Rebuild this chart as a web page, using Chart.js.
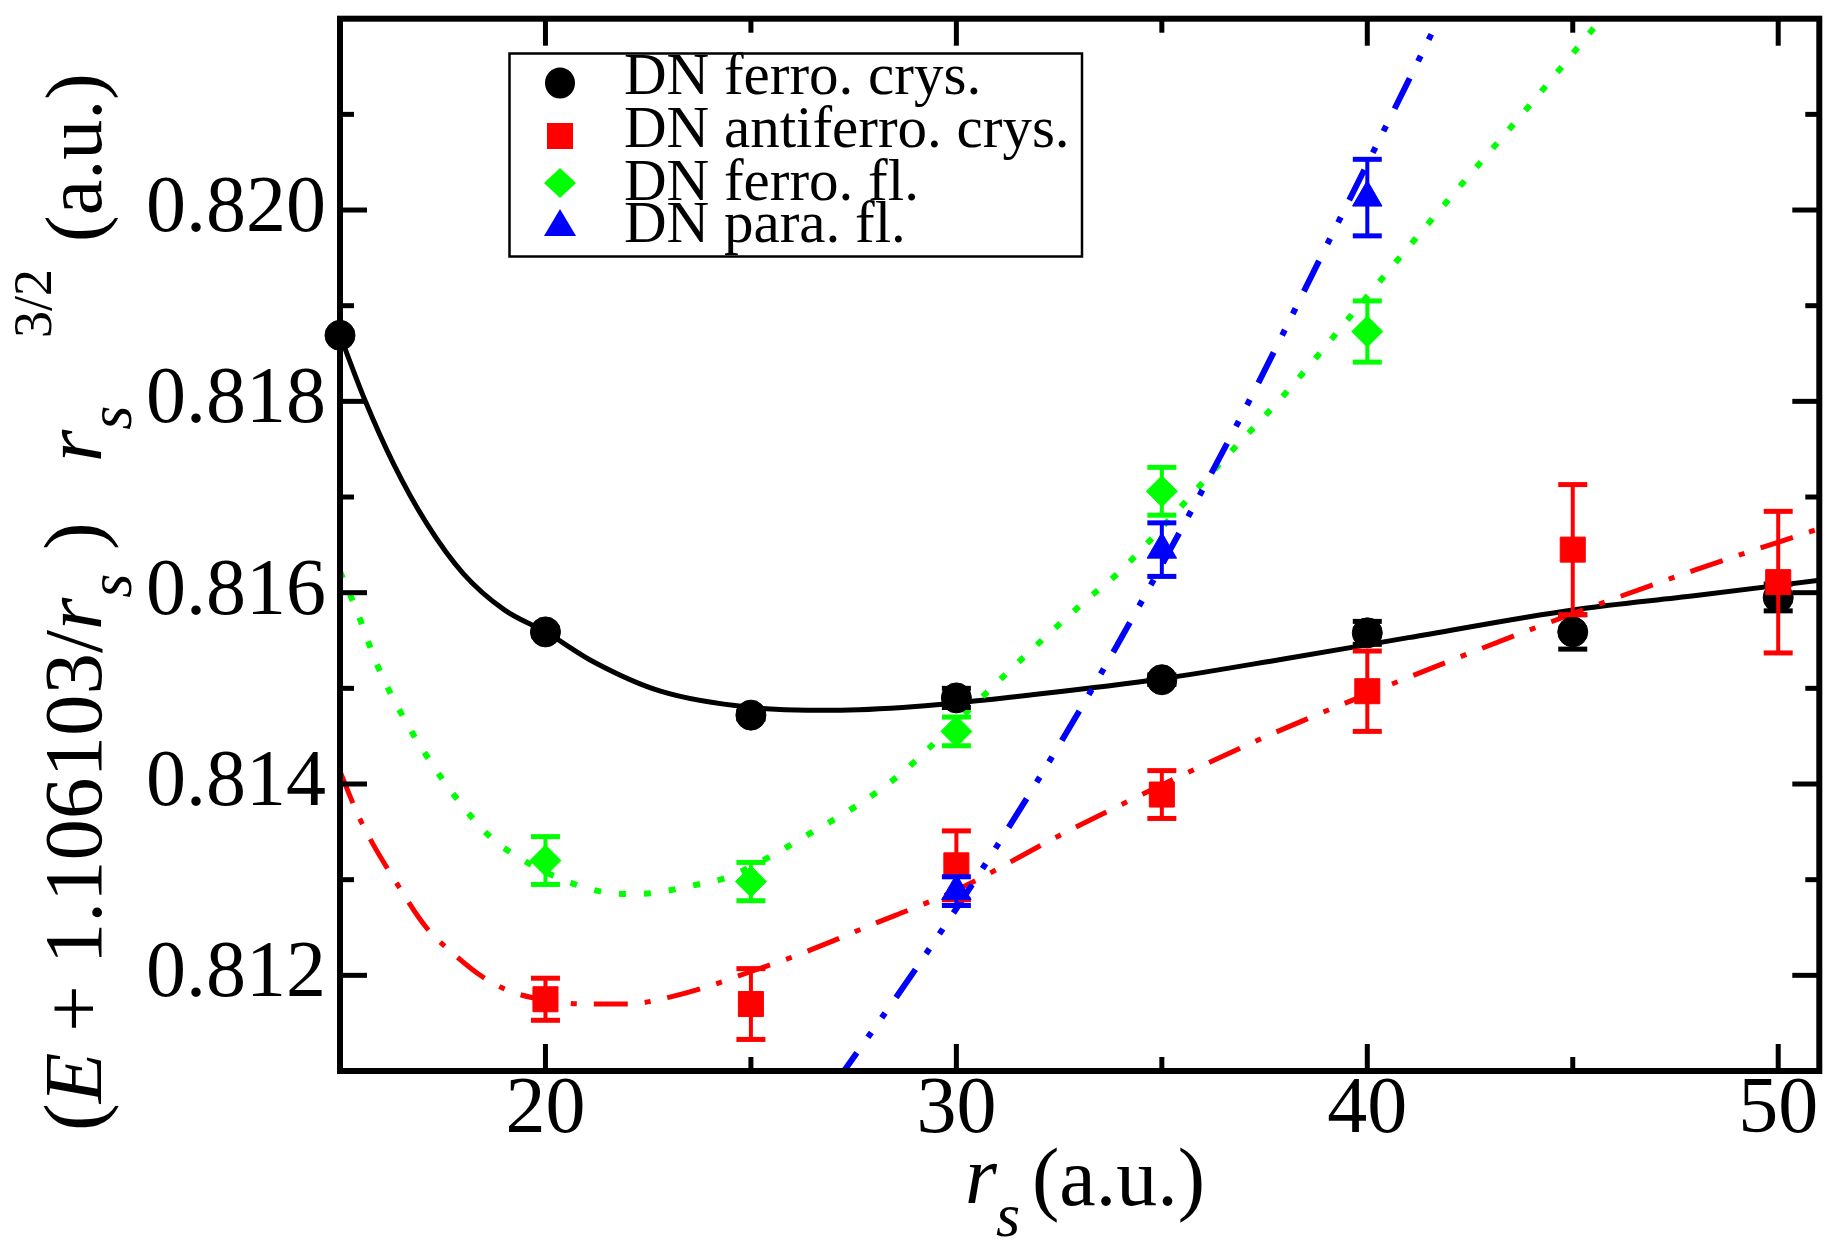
<!DOCTYPE html>
<html><head><meta charset="utf-8">
<script src="https://cdn.jsdelivr.net/npm/chart.js@4.4.0/dist/chart.umd.min.js"></script>
<style>html,body{margin:0;padding:0;background:#fff;}canvas{display:block;}</style>
</head><body>
<canvas id="c" width="1838" height="1242"></canvas>
<script>
// ---- tick labels ----
const xTickValues = [20, 30, 40, 50];
const xTickLabels = ['20', '30', '40', '50'];
const xMinorTicks = [25, 35, 45];
const yTickValues = [0.812, 0.814, 0.816, 0.818, 0.820];
const yTickLabels = ['0.812', '0.814', '0.816', '0.818', '0.820'];
const yMinorTicks = [0.811, 0.813, 0.815, 0.817, 0.819, 0.821];

// ---- series names ----
const seriesNames = ['DN ferro. crys.', 'DN antiferro. crys.', 'DN ferro. fl.', 'DN para. fl.'];

// ---- data points (r_s, value, error) ----
const ferroCrysX = [15, 20, 25, 30, 35, 40, 45, 50];
const ferroCrysY = [0.81869, 0.81559, 0.81472, 0.81490, 0.81509, 0.81558, 0.81559, 0.81595];
const ferroCrysErr = [0, 0.00004, 0.00004, 0.00010, 0.00005, 0.00012, 0.00018, 0.00014];

const antiCrysX = [20, 25, 30, 35, 40, 45, 50];
const antiCrysY = [0.81175, 0.81170, 0.81315, 0.81389, 0.81497, 0.81645, 0.81611];
const antiCrysErr = [0.00022, 0.00037, 0.00036, 0.00025, 0.00042, 0.00068, 0.00074];

const ferroFlX = [20, 25, 30, 35, 40];
const ferroFlY = [0.81320, 0.81298, 0.81455, 0.81706, 0.81873];
const ferroFlErr = [0.00025, 0.00020, 0.00015, 0.00025, 0.00032];

const paraFlX = [30, 35, 40];
const paraFlY = [0.81288, 0.81645, 0.82013];
const paraFlErr = [0.00015, 0.00028, 0.00040];

// ---- fitted curves ----
const ferroCrysFitX = [15, 15.6, 16.3, 17.1, 18, 19, 20, 21.2, 22.8, 25, 27, 29, 32, 35, 38, 41, 45, 48, 51];
const ferroCrysFitY = [0.81869, 0.81802, 0.81735, 0.81673, 0.81620, 0.81582, 0.81559, 0.81527, 0.81497, 0.81480, 0.81477, 0.81481, 0.81494, 0.81510, 0.81531, 0.81553, 0.81582, 0.81597, 0.81613];

const antiCrysFitX = [15, 15.5, 16.5, 17.1, 17.75, 18.45, 19.1, 20, 21, 22, 23, 24, 25, 26, 27, 28, 29, 30, 32.5, 35, 37.5, 40, 42.5, 45, 48, 51];
const antiCrysFitY = [0.81413, 0.81362, 0.81288, 0.81250, 0.81223, 0.81199, 0.81184, 0.81174, 0.81170, 0.81170, 0.81177, 0.81189, 0.81204, 0.81219, 0.81236, 0.81254, 0.81271, 0.81289, 0.81346, 0.81399, 0.81449, 0.81494, 0.81537, 0.81578, 0.81624, 0.81667];

const ferroFlFitX = [15, 15.4, 15.9, 16.5, 17.1, 17.8, 18.6, 19.1, 20.2, 21.3, 22, 22.6, 23.7, 24.4, 25.5, 26.5, 27.6, 28.6, 30, 31.5, 33.1, 34, 35, 36.5, 38, 40, 42, 44, 45.7];
const ferroFlFitY = [0.81622, 0.81582, 0.81525, 0.81473, 0.81430, 0.81387, 0.81347, 0.81330, 0.81304, 0.81288, 0.81285, 0.81286, 0.81295, 0.81302, 0.81325, 0.81350, 0.81378, 0.81409, 0.81465, 0.81527, 0.81590, 0.81623, 0.81668, 0.81739, 0.81808, 0.81910, 0.82012, 0.82112, 0.82200];

const paraFlFitX = [27.1, 29, 31, 33, 35, 37, 39, 41, 41.8];
const paraFlFitY = [0.81090, 0.81206, 0.81336, 0.81477, 0.81629, 0.81790, 0.81962, 0.82135, 0.82205];

const zip = (xs, ys) => xs.map((v, i) => ({x: v, y: ys[i]}));

const SERIF = '"Liberation Serif", "Times New Roman", serif';
const BLACK = '#000000', RED = '#ff0000', GREEN = '#00ff00', BLUE = '#0000ff';

function fitSet(xs, ys, color, dash, width, order) {
  return {label: '', data: zip(xs, ys), showLine: true, pointRadius: 0, pointHoverRadius: 0,
    borderColor: color, borderWidth: width, borderDash: dash, fill: false,
    cubicInterpolationMode: 'monotone', clip: 0, order: order};
}
function pointSet(name, xs, ys, errs, color, style, radius, order) {
  return {label: name, data: zip(xs, ys), errors: errs, showLine: false,
    pointStyle: style, pointRadius: radius, pointHoverRadius: radius,
    backgroundColor: color, borderColor: color, borderWidth: 1, clip: false, order: order};
}

const datasets = [
  fitSet(ferroCrysFitX, ferroCrysFitY, BLACK, [], 5, 13),
  fitSet(antiCrysFitX, antiCrysFitY, RED, [34, 17, 6, 17], 5, 12),
  fitSet(ferroFlFitX, ferroFlFitY, GREEN, [7, 18], 6, 11),
  fitSet(paraFlFitX, paraFlFitY, BLUE, [34, 19, 6, 18, 6, 19], 6, 10),
  pointSet(seriesNames[0], ferroCrysX, ferroCrysY, ferroCrysErr, BLACK, 'circle', 15, 4),
  pointSet(seriesNames[1], antiCrysX, antiCrysY, antiCrysErr, RED, 'rect', 17.7, 3),
  pointSet(seriesNames[2], ferroFlX, ferroFlY, ferroFlErr, GREEN, 'rectRot', 15.5, 2),
  pointSet(seriesNames[3], paraFlX, paraFlY, paraFlErr, BLUE, 'triangle', 17, 1)
];

const errorBarPlugin = {
  id: 'errorBars',
  beforeDatasetDraw(chart, args) {
    const ds = chart.data.datasets[args.index];
    if (!ds.errors) return;
    const ctx = chart.ctx, xs = chart.scales.x, ys = chart.scales.y;
    ctx.save();
    ctx.strokeStyle = ds.borderColor;
    ctx.lineCap = 'butt';
    const seg = (a, b, c, d) => { ctx.beginPath(); ctx.moveTo(a, b); ctx.lineTo(c, d); ctx.stroke(); };
    ds.data.forEach((p, i) => {
      const e = ds.errors[i];
      if (!e) return;
      const px = xs.getPixelForValue(p.x);
      const yTop = ys.getPixelForValue(p.y + e), yBot = ys.getPixelForValue(p.y - e);
      ctx.lineWidth = 4; seg(px, yTop, px, yBot);
      ctx.lineWidth = 5; seg(px - 14.5, yTop, px + 14.5, yTop); seg(px - 14.5, yBot, px + 14.5, yBot);
    });
    ctx.restore();
  }
};

const framePlugin = {
  id: 'frame',
  afterDraw(chart) {
    const ctx = chart.ctx, a = chart.chartArea, xs = chart.scales.x, ys = chart.scales.y;
    const MAJOR = 27, MINOR = 14;
    ctx.save();
    ctx.strokeStyle = '#000'; ctx.lineCap = 'butt';
    const seg = (p, q, r, s) => { ctx.beginPath(); ctx.moveTo(p, q); ctx.lineTo(r, s); ctx.stroke(); };
    ctx.lineWidth = 5;
    xTickValues.forEach(v => { const p = xs.getPixelForValue(v); seg(p, a.bottom, p, a.bottom - MAJOR); seg(p, a.top, p, a.top + MAJOR); });
    xMinorTicks.forEach(v => { const p = xs.getPixelForValue(v); seg(p, a.bottom, p, a.bottom - MINOR); seg(p, a.top, p, a.top + MINOR); });
    yTickValues.forEach(v => { const p = ys.getPixelForValue(v); seg(a.left, p, a.left + MAJOR, p); seg(a.right, p, a.right - MAJOR, p); });
    yMinorTicks.forEach(v => { const p = ys.getPixelForValue(v); seg(a.left, p, a.left + MINOR, p); seg(a.right, p, a.right - MINOR, p); });
    ctx.lineWidth = 6;
    ctx.strokeRect(a.left, a.top, a.right - a.left, a.bottom - a.top);
    ctx.restore();
  }
};

// text pieces along the rotated axis; "at" = distance (px) from the start point
function drawPieces(ctx, pieces) {
  let u = 0;
  pieces.forEach(p => {
    ctx.font = (p.it ? 'italic ' : '') + p.size + 'px ' + SERIF;
    if (p.at !== undefined) u = p.at;
    ctx.fillText(p.t, u, p.dy || 0);
    u += ctx.measureText(p.t).width;
  });
}

const titlePlugin = {
  id: 'titles',
  afterDraw(chart) {
    const ctx = chart.ctx;
    ctx.save();
    ctx.fillStyle = '#000';
    ctx.textBaseline = 'alphabetic';
    ctx.textAlign = 'left';
    // x title
    ctx.font = 'italic 82px ' + SERIF; ctx.fillText('r', 965, 1203);
    ctx.font = 'italic 62px ' + SERIF; ctx.fillText('s', 996, 1236);
    ctx.font = '82px ' + SERIF; ctx.fillText('(a.u.)', 1032, 1205);
    // y title (rotated, reads bottom to top)
    const Y0 = 1131;
    ctx.translate(101, Y0);
    ctx.rotate(-Math.PI / 2);
    const S = 83, SB = 62, SP = 54;
    drawPieces(ctx, [
      {t: '(', size: S}, {t: 'E', size: S, it: true}, {t: ' + ', size: S},
      {t: '1.106103/', size: S}, {t: 'r', size: S, it: true},
      {t: 's', size: SB, it: true, dy: 30},
      {t: ')', size: S, at: Y0 - 550},
      {t: 'r', size: S, it: true, at: Y0 - 462}, {t: 's', size: SB, it: true, dy: 30},
      {t: '3/2', size: SP, dy: -50, at: Y0 - 338},
      {t: '(a.u.)', size: 80, at: Y0 - 242}
    ]);
    ctx.restore();

    // legend
    ctx.save();
    ctx.strokeStyle = '#000'; ctx.lineWidth = 2.5;
    ctx.strokeRect(509.5, 53.5, 572.5, 203);
    const rowsY = [83, 136, 183, 225];
    const baseY = [94, 147, 200, 242];
    const cols = [BLACK, RED, GREEN, BLUE];
    const mx = 560;
    cols.forEach((c, i) => {
      ctx.fillStyle = c;
      const cy = rowsY[i];
      ctx.beginPath();
      if (i === 0) ctx.ellipse(mx, cy, 15, 15.5, 0, 0, Math.PI * 2);
      else if (i === 1) ctx.rect(mx - 13, cy - 13, 26, 26);
      else if (i === 2) { ctx.moveTo(mx, cy - 15); ctx.lineTo(mx + 16, cy); ctx.lineTo(mx, cy + 15); ctx.lineTo(mx - 16, cy); ctx.closePath(); }
      else { ctx.moveTo(mx, cy - 16); ctx.lineTo(mx + 16, cy + 11); ctx.lineTo(mx - 16, cy + 11); ctx.closePath(); }
      ctx.fill();
      ctx.fillStyle = '#000';
      ctx.font = '59px ' + SERIF;
      ctx.fillText(seriesNames[i], 624, baseY[i]);
    });
    ctx.restore();
  }
};

new Chart(document.getElementById('c'), {
  type: 'scatter',
  data: {datasets: datasets},
  options: {
    responsive: false, animation: false, devicePixelRatio: 1,
    layout: {padding: {left: 0, right: 15, top: 11.5, bottom: 0}},
    plugins: {legend: {display: false}, tooltip: {enabled: false}, title: {display: false}},
    events: [],
    scales: {
      x: {
        type: 'linear', min: 15, max: 51,
        afterBuildTicks: s => { s.ticks = xTickValues.map(v => ({value: v})); },
        afterFit: s => { s.height = 171; s.paddingLeft = 0; s.paddingRight = 0; },
        ticks: {callback: (v, i) => xTickLabels[i], color: '#000', padding: 0, maxRotation: 0, autoSkip: false,
          font: {family: SERIF, size: 80, lineHeight: 1}},
        grid: {display: false, drawTicks: false}, border: {display: false}
      },
      y: {
        type: 'linear', min: 0.811, max: 0.822,
        afterBuildTicks: s => { s.ticks = yTickValues.map(v => ({value: v})); },
        afterFit: s => { s.width = 340; s.paddingTop = 0; s.paddingBottom = 0; },
        ticks: {callback: (v, i) => yTickLabels[i], color: '#000', padding: 14, autoSkip: false,
          font: {family: SERIF, size: 80, lineHeight: 1}},
        grid: {display: false, drawTicks: false}, border: {display: false}
      }
    }
  },
  plugins: [errorBarPlugin, framePlugin, titlePlugin]
});
</script>
</body></html>
